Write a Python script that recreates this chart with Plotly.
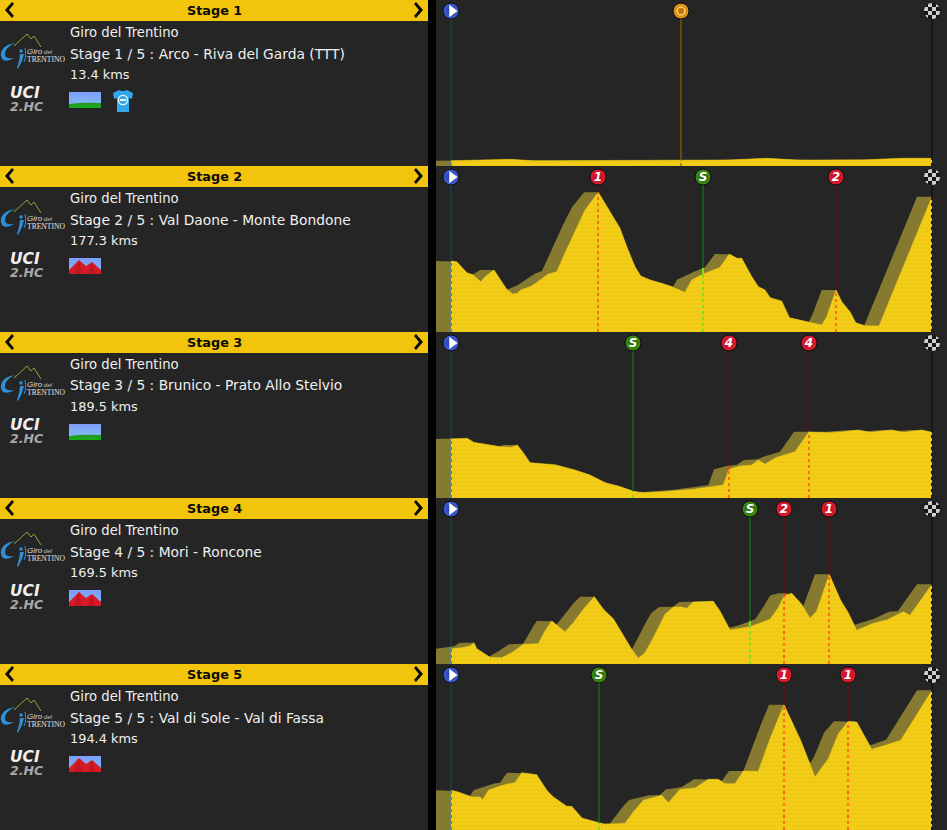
import base64
import numpy as np
import plotly.graph_objects as go

W, H = 947, 830
PANEL = 166
SHADOW_KM = 15

stage_headers = ["Stage 1", "Stage 2", "Stage 3", "Stage 4", "Stage 5"]
race_name = "Giro del Trentino"
stage_lines = [
    "Stage 1 / 5 : Arco - Riva del Garda (TTT)",
    "Stage 2 / 5 : Val Daone - Monte Bondone",
    "Stage 3 / 5 : Brunico - Prato Allo Stelvio",
    "Stage 4 / 5 : Mori - Roncone",
    "Stage 5 / 5 : Val di Sole - Val di Fassa",
]
distances = ["13.4 kms", "177.3 kms", "189.5 kms", "169.5 kms", "194.4 kms"]
terrain = ["flat", "mountain", "flat", "mountain", "mountain"]

s1_x = [0, 59, 82.3, 179, 279, 315.7, 345.7, 372, 412.3, 452.3, 481]
s1_h = [5.3, 6.7, 5.3, 5.3, 6, 7.7, 6, 6, 6, 7.7, 7.7]
s2_x = [0, 5.7, 15.7, 22.3, 29.7, 34, 43, 55.7, 61.7, 66.3, 69.7, 80.7, 97.3, 105.7, 112.3, 122.3, 134, 147.3,
        162.3, 169, 175.7, 184, 189.7, 199, 210.7, 219, 234, 240.7, 252.3, 269, 278.3, 285.7, 290.7, 300.7,
        307.3, 314, 319, 330.7, 338.3, 357.3, 370.7, 375.7, 385, 390.7, 399, 404.7, 414, 428, 481]
s2_h = [71, 70.3, 59.3, 57, 50.3, 55.3, 62, 42.7, 38, 38.7, 42, 46, 58, 60.3, 75.3, 97, 122, 139.7,
        115.3, 103.7, 85.3, 65.3, 56, 52, 48.7, 46, 39.7, 52, 58, 64.7, 78, 73.7, 73.7, 55.3,
        45.3, 42, 34.3, 31, 14.3, 10, 7, 15.3, 42, 30.3, 20.3, 9.3, 6.3, 6, 135.3]
s3_x = [0, 16.3, 22.3, 32.3, 49, 60.7, 66.3, 72.3, 79, 104, 124, 139, 154, 167.3, 182.3, 192.3, 212.3, 242.3,
        272.3, 278, 289, 300.7, 307.3, 314, 325.7, 344, 350.7, 358, 362.3, 379, 392.3, 407.3, 419, 440.7,
        452.3, 470.7, 481]
s3_h = [59, 59.7, 55.7, 54, 51.3, 50.7, 53, 45.3, 35.3, 33.3, 28, 23, 15.3, 12, 6.7, 5.3, 6.3, 8.7,
        13, 28.7, 32, 33, 38, 34, 40.7, 46.3, 56.3, 66.3, 65.7, 65.3, 66.3, 68, 65.7, 68,
        65.7, 68, 65.7]
s4_x = [0, 10.7, 19, 23, 25.7, 32.3, 39, 50.7, 60.7, 72.3, 87.3, 94, 100.7, 114, 122.3, 132.3, 143.3, 152.3,
        162.3, 170.7, 180.7, 187.3, 194, 202.3, 214, 222.3, 230.7, 235.7, 242.3, 262.3, 269, 279, 299, 319,
        327.3, 333, 340.7, 350.7, 359, 365.7, 378.3, 389, 397.3, 405.7, 422.3, 435.7, 452.3, 459, 469, 481]
s4_h = [15.3, 16.3, 18, 21.3, 15.3, 11.3, 6.7, 6.3, 11.3, 19.7, 20.3, 33, 43, 32.3, 41.3, 54.7, 67.3, 54.7,
        45.3, 31.3, 14.7, 5.7, 11.3, 26.3, 49.7, 57, 57, 55.7, 62, 62.7, 53, 34, 37.3, 44.7,
        56.3, 68, 70.7, 59.7, 45.7, 53, 89.7, 64.7, 51.3, 33.7, 40.7, 44, 52.3, 48.7, 63, 79.7]
s5_x = [0, 7.3, 20.7, 29, 31.7, 37.3, 49, 57.3, 64, 70.7, 85.7, 95.7, 102.3, 115.7, 120.7, 130.7, 147.3, 154,
        174, 182.3, 192.3, 210.7, 217.3, 229, 244, 257.3, 267.3, 274, 284, 292.3, 307.3, 319, 333, 342.3,
        349.7, 364, 377.3, 387.3, 397.3, 405.7, 420.7, 435.7, 449.7, 481]
s5_h = [39.7, 38, 33, 33, 30.3, 39.7, 44, 46.3, 47.3, 57.3, 55.3, 39.7, 33, 23.7, 23.7, 12, 7.3, 5.7,
        6.7, 18, 29.7, 34.7, 27.3, 40.7, 42, 50.7, 50.7, 46.3, 46.3, 59, 58.7, 91.3, 125.3, 104.7,
        89.7, 53, 71.3, 96.3, 108.7, 108, 80.7, 85.3, 89.7, 139.7]
profiles = [(s1_x, s1_h), (s2_x, s2_h), (s3_x, s3_h), (s4_x, s4_h), (s5_x, s5_h)]

finish_x = 481
mark_x = [[230], [147, 252, 385], [182, 278, 358], [299, 333, 378], [148, 333, 397]]
mark_label = [["T"], ["1", "S", "2"], ["S", "4", "4"], ["S", "2", "1"], ["S", "1", "1"]]

STYLES = {
    "red":   dict(ball="#b8101f", hi="#e01c34", top="#5a1212", mid="#e04a10", dot="#ff6d12"),
    "green": dict(ball="#1f6204", hi="#3f9010", top="#146612", mid="#7ee01c", dot="#7ee01c"),
    "start": dict(ball="#2238a0", hi="#3f60d8", top="#1f3c44", mid="#4c8aa0", dot="#4c8aa0"),
    "time":  dict(ball="#b87008", hi="#e09a18", top="#685800", mid="#a09020", dot="#a09020"),
    "end":   dict(ball="#222222", hi="#444444", top="#141414", mid="#222222", dot="#1c1c1c"),
}


def svg_uri(body, w, h):
    s = f'<svg xmlns="http://www.w3.org/2000/svg" width="{w}" height="{h}" viewBox="0 0 {w} {h}">{body}</svg>'
    return "data:image/svg+xml;base64," + base64.b64encode(s.encode()).decode()


FLAT_ICON = svg_uri(
    '<defs><linearGradient id="s" x1="0" y1="0" x2="0" y2="1"><stop offset="0" stop-color="#7f9dff"/>'
    '<stop offset="1" stop-color="#7fc6ea"/></linearGradient><linearGradient id="g" x1="0" y1="0" x2="0" y2="1">'
    '<stop offset="0" stop-color="#2f8f2a"/><stop offset="1" stop-color="#12b012"/></linearGradient></defs>'
    '<rect width="32" height="16" fill="url(#s)"/><path d="M0 12 Q14 10 32 11 V16 H0 Z" fill="url(#g)"/>', 32, 16)
MOUNT_ICON = svg_uri(
    '<defs><linearGradient id="s" x1="0" y1="0" x2="0" y2="1"><stop offset="0" stop-color="#7f9dff"/>'
    '<stop offset="1" stop-color="#6fc0ee"/></linearGradient></defs><rect width="32" height="16" fill="url(#s)"/>'
    '<path d="M0 16 L0 12 L10 2 L17 8 L23 4 L32 12 L32 16 Z" fill="#d81a28"/>'
    '<path d="M10 2 L13 16 L5 16 Z M23 4 L26 16 L19 16 Z" fill="#b01420" opacity=".6"/>', 32, 16)
JERSEY_ICON = svg_uri(
    '<path d="M7 1 Q11 3 15 1 L21 4 L20 10 L17 9 L17 23 L5 23 L5 9 L2 10 L1 4 Z" fill="#30a8ea"/>'
    '<circle cx="11" cy="11" r="4.6" fill="none" stroke="#e8f6ff" stroke-width="1.4"/>'
    '<rect x="8" y="10" width="6" height="2" fill="#e8f6ff"/>', 22, 24)
LOGO_ICON = svg_uri(
    '<path d="M14 13 L27 1 L31 6 L34 3 L41 14" fill="none" stroke="#8aa838" stroke-width="1"/>'
    '<path d="M16 10 C4 11 0 18 1 23 C2 29 8 29 14 25 C9 26 5 25 5 21 C5 16 10 12 16 10 Z" fill="#2f8fd8"/>'
    '<circle cx="21" cy="18" r="1.8" fill="#2f8fd8"/>'
    '<path d="M20 21 L24 21 L22 28 L18 36 L17 35 L19 28 Z" fill="#2f8fd8"/>'
    '<path d="M25 15 C26 21 26 25 24 29" fill="none" stroke="#2f8fd8" stroke-width="1"/>', 64, 38)
CHECK_ICON = svg_uri(
    '<defs><clipPath id="c"><circle cx="8" cy="8" r="8"/></clipPath></defs><g clip-path="url(#c)">'
    '<rect width="16" height="16" fill="#1a1a1a"/>'
    + "".join(f'<rect x="{i*4}" y="{j*4}" width="4" height="4" fill="{"#cfcfcf" if (i+j)%2 else "#161616"}"/>'
              for i in range(4) for j in range(4))
    + '</g>', 16, 16)


def envelope(xs, hs):
    xs, hs = np.array(xs, float), np.array(hs, float)
    grid = np.unique(np.concatenate([xs, xs - SHADOW_KM, np.arange(-SHADOW_KM, finish_x + 1)]))
    grid = grid[grid >= -SHADOW_KM]
    out = []
    for g in grid:
        lo, hi = max(g, 0), min(g + SHADOW_KM, finish_x)
        inside = hs[(xs >= lo) & (xs <= hi)]
        c = [np.interp(lo, xs, hs), np.interp(hi, xs, hs)] + list(inside)
        out.append(max(c))
    return grid, np.array(out)


def px(x):
    return x / W


def py(y):
    return 1 - y / H


fig = go.Figure()
layout = dict(
    width=W, height=H, autosize=False, margin=dict(l=0, r=0, t=0, b=0, pad=0),
    paper_bgcolor="#252525", plot_bgcolor="rgba(0,0,0,0)", showlegend=False,
    font=dict(family="DejaVu Sans", color="#f2f2f2"), hovermode=False,
)
shapes = [dict(type="rect", xref="paper", yref="paper", x0=px(428), x1=px(436), y0=0, y1=1,
               fillcolor="#000000", line_width=0, layer="above")]
images, annots = [], []


def add_text(text, x, y, **kw):
    font = dict(family="DejaVu Sans", size=13.2, color="#f0f0f0")
    font.update(kw.pop("font", {}))
    annots.append(dict(text=text, x=px(x), y=py(y), xref="paper", yref="paper", showarrow=False,
                       xanchor=kw.pop("xanchor", "left"), yanchor="middle", align="left", font=font, **kw))


def add_image(src, x, y, w, h):
    images.append(dict(source=src, xref="paper", yref="paper", x=px(x), y=py(y), sizex=w / W, sizey=h / H,
                       xanchor="left", yanchor="top", sizing="stretch", layer="above"))


def draw_mark(fig, x, key, axx, axy, hprof, henv, label=None):
    st = STYLES[key]
    def seg(h0, h1, color, dash="solid", width=1.6):
        fig.add_trace(go.Scatter(x=[x, x], y=[h0, h1], mode="lines", xaxis=axx, yaxis=axy,
                                 line=dict(color=color, width=width, dash=dash)))
    seg(henv, 155, st["top"])
    if henv > hprof + 0.5:
        seg(hprof, henv, st["mid"], width=2)
    seg(0, hprof, st["dot"], dash="3px,3px", width=2)
    if key != "end":
        fig.add_trace(go.Scatter(x=[x], y=[155], mode="markers", xaxis=axx, yaxis=axy, cliponaxis=False,
                                 marker=dict(size=16, color=st["hi"], symbol="circle",
                                             gradient=dict(type="radial", color=st["ball"]),
                                             line=dict(color="#0c0c0c", width=1))))
    if key == "start":
        fig.add_trace(go.Scatter(x=[x + 1], y=[155], mode="markers", xaxis=axx, yaxis=axy,
                                 marker=dict(size=11, color="#ffffff", symbol="triangle-right")))
    elif key == "time":
        fig.add_trace(go.Scatter(x=[x], y=[155], mode="markers", xaxis=axx, yaxis=axy,
                                 marker=dict(size=8, symbol="circle-open", color="#ffd070", line=dict(width=1.5, color="#ffd070"))))
    elif label:
        fig.add_trace(go.Scatter(x=[x], y=[154.5], mode="text", text=[label], xaxis=axx, yaxis=axy,
                                 textposition="middle center",
                                 textfont=dict(family="DejaVu Sans", size=12, color="#ffffff", weight="bold", style="italic")))


for k in range(5):
    top = k * PANEL
    sfx = "" if k == 0 else str(k + 1)
    axx, axy = "x" + sfx, "y" + sfx
    layout["xaxis" + sfx] = dict(domain=[436 / W, 1], range=[-SHADOW_KM, 496], visible=False, anchor=axy, fixedrange=True)
    layout["yaxis" + sfx] = dict(domain=[1 - (top + PANEL) / H, 1 - top / H], range=[0, PANEL], visible=False, anchor=axx, fixedrange=True)

    xs, hs = profiles[k]
    ex, eh = envelope(xs, hs)
    fig.add_trace(go.Scatter(x=ex, y=eh, mode="lines", fill="tozeroy", fillcolor="#857a2f", line=dict(width=0),
                             xaxis=axx, yaxis=axy))
    fig.add_trace(go.Scatter(x=xs, y=hs, mode="lines", fill="tozeroy", line=dict(color="#f3cd17", width=0.5),
                             fillpattern=dict(shape=".", size=4, solidity=0.35, fgcolor="#ebc612", bgcolor="#f3cd17", fillmode="replace"),
                             xaxis=axx, yaxis=axy))

    draw_mark(fig, 0, "start", axx, axy, hs[0], float(np.interp(0, ex, eh)))
    for mx, lab in zip(mark_x[k], mark_label[k]):
        key = "time" if lab == "T" else ("green" if lab == "S" else "red")
        draw_mark(fig, mx, key, axx, axy, float(np.interp(mx, xs, hs)), float(np.interp(mx, ex, eh)), lab)
    draw_mark(fig, finish_x, "end", axx, axy, hs[-1], float(np.interp(finish_x, ex, eh)))
    add_image(CHECK_ICON, 924, top + 3, 16, 16)

    # left block
    shapes.append(dict(type="rect", xref="paper", yref="paper", x0=0, x1=px(428), y0=py(top + 21), y1=py(top),
                       fillcolor="#f2c40c", line_width=0, layer="above"))
    for pts in ([(12, 2), (5, 10), (12, 18), (14, 16), (9, 10), (14, 4)],
                [(416, 2), (423, 10), (416, 18), (414, 16), (419, 10), (414, 4)]):
        path = "M " + " L ".join(f"{px(a):.5f},{py(top + b):.5f}" for a, b in pts) + " Z"
        shapes.append(dict(type="path", xref="paper", yref="paper", path=path, fillcolor="#0a0a0a", line_width=0, layer="above"))
    add_text(stage_headers[k], 214, top + 10, xanchor="center",
             font=dict(size=12.8, color="#0a0a0a", weight="bold"))
    add_text(race_name, 68, top + 32.5)
    add_text(stage_lines[k], 68, top + 53.5, font=dict(size=13.8))
    add_text(distances[k], 68, top + 74.5, font=dict(size=12.9))
    add_image(LOGO_ICON, 0, top + 33, 64, 38)
    add_text('<span style="font-size:8px;color:#d8d8d8"><i>Giro</i></span> <span style="font-size:6px;color:#c0c0c0"><i>del</i></span><br>'
             '<span style="font-family:Liberation Serif;font-size:7.6px;color:#e0e0e0">TRENTINO</span>',
             25, top + 56, font=dict(family="Liberation Sans", size=6, color="#d8d8d8"))
    add_text('<span style="font-size:15.5px;color:#f0f0f0"><b><i>UCI</i></b></span><br>'
             '<span style="font-size:12.5px;color:#a8a8a8"><b><i>2.HC</i></b></span>',
             8, top + 99, font=dict(family="DejaVu Sans", size=10, color="#f0f0f0"))
    add_image(FLAT_ICON if terrain[k] == "flat" else MOUNT_ICON, 69, top + 92, 32, 16)
    if k == 0:
        add_image(JERSEY_ICON, 112, top + 89, 22, 24)

layout.update(shapes=shapes, images=images, annotations=annots)
fig.update_layout(**layout)
fig.write_html("out.html", config=dict(displayModeBar=False),
               post_script="document.body.style.margin='0';document.body.style.overflow='hidden';")
